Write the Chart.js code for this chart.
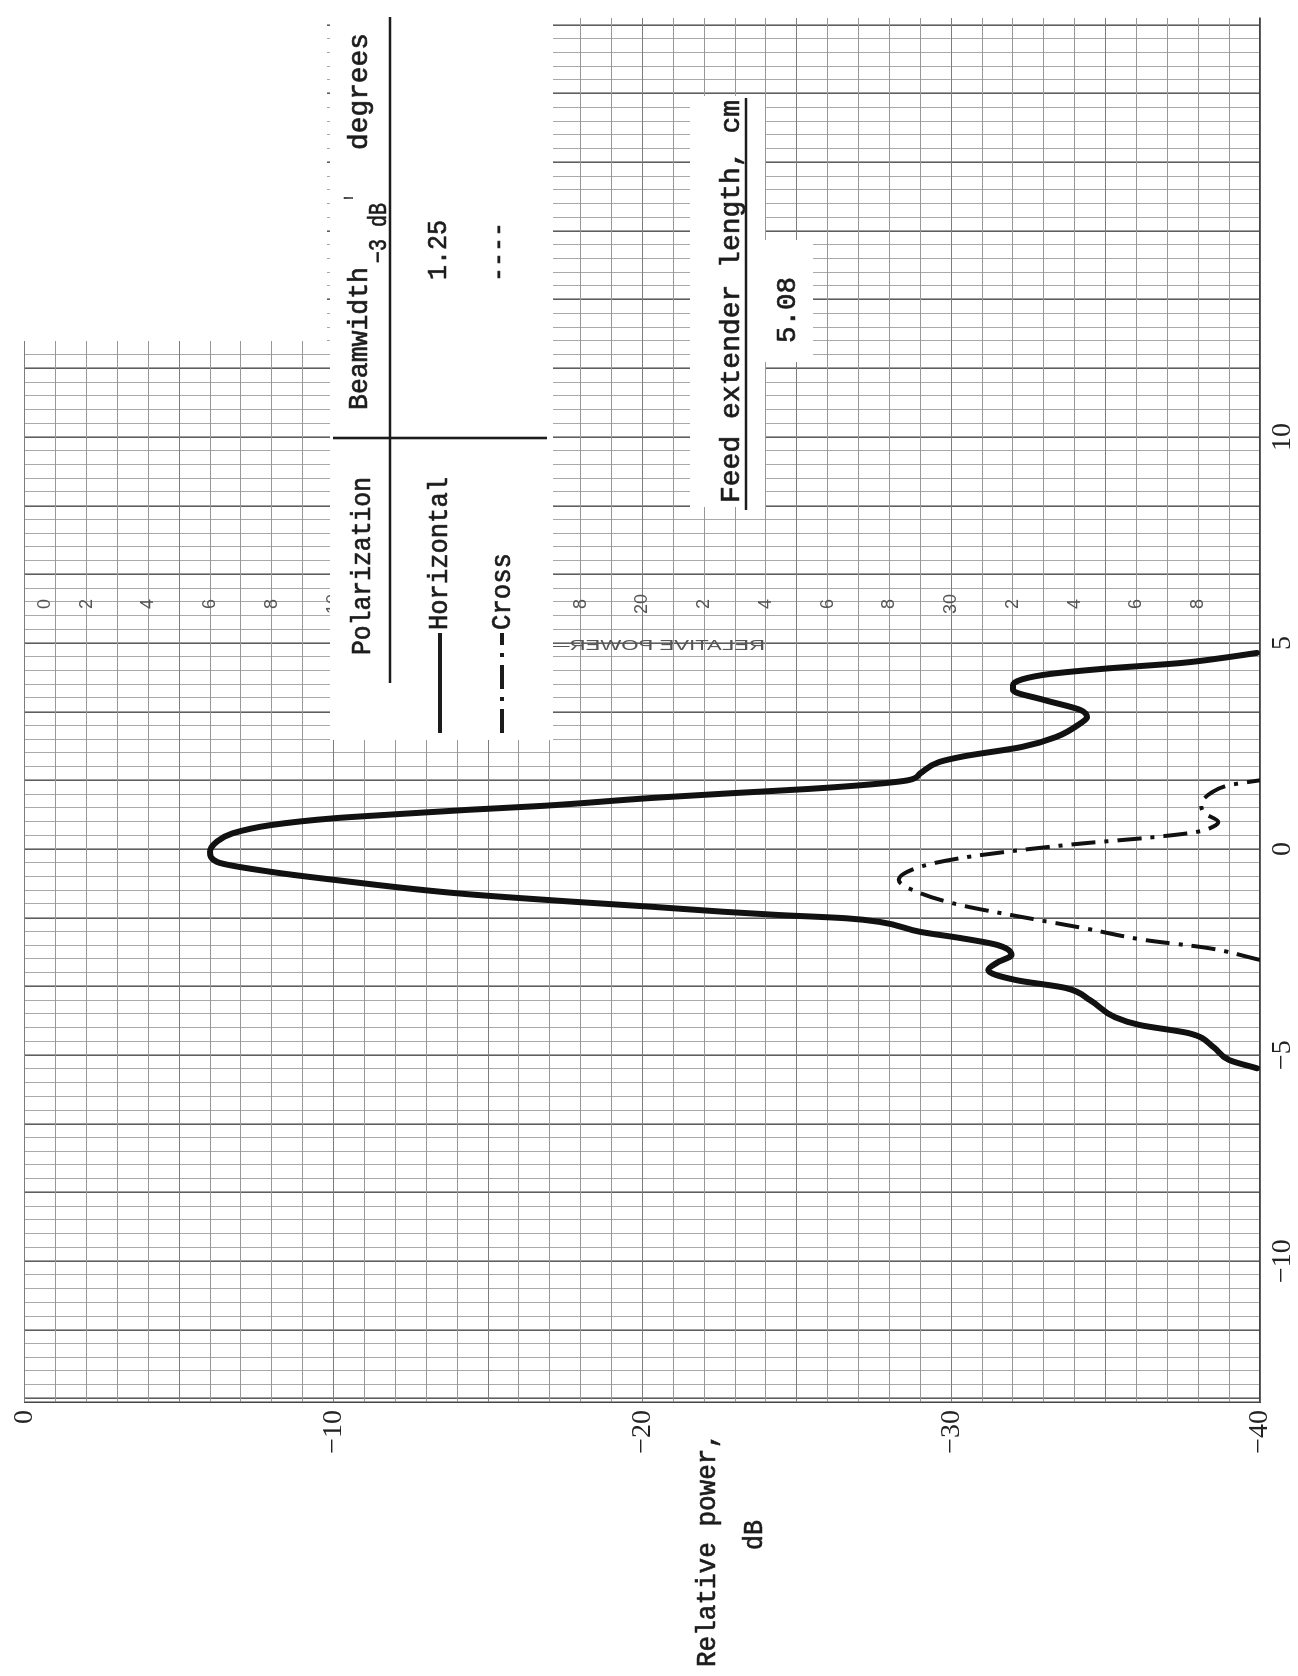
<!DOCTYPE html>
<html>
<head>
<meta charset="utf-8">
<script src="https://cdn.jsdelivr.net/npm/chart.js@4.4.1/dist/chart.umd.min.js"></script>
<style>
  html, body { margin: 0; padding: 0; background: #fff; overflow: hidden; }
  body { width: 1298px; height: 1676px; position: relative; }
  /* the recording is drawn landscape and turned a quarter turn, as on the sheet */
  #wrap { position: absolute; left: 0; top: 0; width: 1676px; height: 1298px;
          transform-origin: 0 0; transform: translateY(1676px) rotate(-90deg); }
</style>
</head>
<body>
<div id="wrap"><canvas id="chart" width="1676" height="1298"></canvas></div>
<script>
// angle, degrees / relative power, dB
const horizAngle = [-5.32, -5.12, -4.81, -4.47, -4.27, -4.08, -3.67, -3.37, -3.18, -2.94, -2.75, -2.57, -2.33, -2.16, -2.01, -1.77, -1.68, -1.60, -1.52, -1.40, -1.28, -1.08, -0.75, -0.55, -0.31, -0.07, 0.18, 0.38, 0.58, 0.75, 0.83, 0.95, 1.05, 1.24, 1.36, 1.46, 1.57, 1.67, 1.84, 2.11, 2.25, 2.48, 2.72, 3.06, 3.20, 3.37, 3.62, 3.86, 3.98, 4.12, 4.25, 4.38, 4.52, 4.64, 4.76];
const horizPower = [-39.9, -39.0, -38.5, -37.7, -36.1, -35.3, -34.5, -33.7, -32.1, -31.2, -31.5, -31.95, -31.5, -30.3, -29.0, -27.7, -26.6, -24.4, -22.6, -20.3, -17.8, -14.1, -10.05, -7.95, -6.22, -6.0, -6.22, -6.72, -7.95, -10.05, -11.7, -14.3, -16.8, -20.3, -23.0, -25.4, -27.4, -28.6, -29.0, -29.6, -30.4, -32.3, -33.4, -34.2, -34.4, -34.2, -33.0, -32.0, -32.0, -32.3, -33.2, -35.0, -37.5, -38.8, -39.9];
const crossAngle = [-2.69, -2.40, -2.21, -1.92, -1.65, -1.36, -1.07, -0.75, -0.43, -0.22, -0.02, 0.14, 0.27, 0.41, 0.55, 0.66, 0.87, 1.07, 1.38, 1.55, 1.67];
const crossPower = [-40.0, -38.3, -36.3, -34.3, -32.3, -30.3, -29.0, -28.3, -29.0, -30.3, -32.3, -34.3, -36.3, -37.9, -38.5, -38.65, -38.2, -38.1, -38.45, -39.0, -40.0];

const angleLabels = [-10, -5, 0, 5, 10];
const powerLabels = [0, -10, -20, -30, -40];
// printed scale of the chart paper itself
const paperScale = [0, 2, 4, 6, 8, 10, 12, 14, 16, 18, 20, 22, 24, 26, 28, 30, 32, 34, 36, 38];

const W = 1676; // canvas width = page height
const INK = '#1c1c1c';

function fmt(v) { return v < 0 ? '\u2212' + Math.abs(v) : String(v); }

// typewritten text, squeezed to the width it takes on the sheet
function typed(ctx, s, x, base, w, size) {
  ctx.save();
  ctx.font = size + 'px "Liberation Mono", monospace';
  ctx.fillStyle = INK;
  ctx.strokeStyle = INK;
  ctx.textAlign = 'left';
  ctx.textBaseline = 'alphabetic';
  const m = ctx.measureText(s).width;
  ctx.translate(x, base);
  ctx.scale(w / m, 1);
  ctx.fillText(s, 0, 0);
  ctx.lineWidth = 0.7;
  ctx.strokeText(s, 0, 0);
  ctx.restore();
}

// rectangle given in page coordinates
function pageRect(ctx, x0, y0, x1, y1) {
  ctx.fillRect(W - y1, x0, y1 - y0, x1 - x0);
}
function pageLine(ctx, x0, y0, x1, y1, w, dash) {
  ctx.save();
  ctx.strokeStyle = INK;
  ctx.lineWidth = w;
  ctx.setLineDash(dash || []);
  ctx.beginPath();
  ctx.moveTo(W - y0, x0);
  ctx.lineTo(W - y1, x1);
  ctx.stroke();
  ctx.restore();
}

const paper = {
  id: 'paper',
  beforeDraw(chart) {
    const ctx = chart.ctx;
    ctx.save();
    ctx.fillStyle = '#fff';
    ctx.fillRect(0, 0, chart.width, chart.height);
    ctx.restore();
  },
  beforeDatasetsDraw(chart) {
    const { ctx, scales: { y } } = chart;
    ctx.save();

    // paper's own dB scale
    ctx.font = '18px "Liberation Sans", sans-serif';
    ctx.fillStyle = '#555';
    ctx.textAlign = 'center';
    ctx.textBaseline = 'middle';
    paperScale.forEach(v => {
      const t = v % 10 === 0 ? String(v) : String(v % 10);
      const py = y.getPixelForValue(-v) + (v === 0 ? 20 : 0);
      ctx.fillText(t, W - 604, py);
    });

    // mirrored RELATIVE POWER caption showing through the paper
    ctx.save();
    ctx.translate(W - 646, 765);
    ctx.rotate(Math.PI / 2);
    ctx.scale(-1, 1);
    ctx.font = '15px "Liberation Sans", sans-serif';
    ctx.fillStyle = '#555';
    ctx.textBaseline = 'middle';
    ctx.textAlign = 'left';
    const cap = 'RELATIVE POWER\u2014(';
    const cw = ctx.measureText(cap).width;
    ctx.scale(225 / cw, 1);
    ctx.fillText(cap, 0, 0);
    ctx.restore();

    // blank parts of the sheet
    ctx.fillStyle = '#fff';
    pageRect(ctx, 20, 0, 327, 341);
    pageRect(ctx, 330, 0, 553, 740);
    pageRect(ctx, 690, 96, 765, 507);
    pageRect(ctx, 765, 240, 813, 362);

    // table rules
    pageLine(ctx, 390, 17, 390, 683, 2.6);
    pageLine(ctx, 333, 438, 547, 438, 2.6);
    pageLine(ctx, 746, 98, 746, 510, 2.4);
    // legend samples
    pageLine(ctx, 440, 733, 440, 633, 4);
    pageLine(ctx, 502, 733, 502, 633, 4, [24, 8, 4, 8]);

    // table text (horizontal on the canvas, upright on the turned sheet)
    typed(ctx, 'Polarization', 1021, 370, 178, 27);
    typed(ctx, 'Horizontal', 1046, 447, 153, 27);
    typed(ctx, 'Cross', 1046, 510, 77, 27);
    typed(ctx, 'Beamwidth', 1266, 367, 143, 27);
    typed(ctx, '\u22123 dB', 1413, 386, 60, 25);
    typed(ctx, "'", 1474, 364, 8, 27);
    typed(ctx, 'degrees', 1526, 367, 117, 27);
    typed(ctx, '1.25', 1396, 446, 60, 27);
    typed(ctx, '----', 1394, 506, 60, 27);
    typed(ctx, 'Feed extender length, cm', 1173, 739, 403, 27);
    typed(ctx, '5.08', 1333, 795, 66, 27);

    // axis title
    typed(ctx, 'Relative power,', 9, 715, 234, 27);
    typed(ctx, 'dB', 126, 762, 30, 27);

    ctx.restore();
  }
};

new Chart(document.getElementById('chart'), {
  type: 'line',
  data: {
    datasets: [
      {
        label: 'Horizontal',
        data: horizAngle.map((a, i) => ({ x: a, y: horizPower[i] })),
        borderColor: '#111',
        borderWidth: 6,
        pointRadius: 0,
        cubicInterpolationMode: 'monotone',
        borderCapStyle: 'round',
        borderJoinStyle: 'round'
      },
      {
        label: 'Cross',
        data: crossAngle.map((a, i) => ({ x: a, y: crossPower[i] })),
        borderColor: '#111',
        borderWidth: 4,
        borderDash: [24, 9, 4, 9],
        pointRadius: 0,
        cubicInterpolationMode: 'monotone'
      }
    ]
  },
  options: {
    responsive: false,
    animation: false,
    devicePixelRatio: 1,
    layout: { padding: { left: 0, right: 18, top: 18, bottom: 0 } },
    plugins: { legend: { display: false }, tooltip: { enabled: false } },
    scales: {
      x: {
        type: 'linear',
        min: -13.42,
        max: 20.17,
        afterBuildTicks: scale => {
          // grid every 1/3 degree, heavier every 5/3 degree
          const t = [];
          for (let k = -40; k <= 60; k++) t.push({ value: k / 3 });
          scale.ticks = t;
        },
        afterFit: scale => { scale.height = 38; },
        grid: {
          drawTicks: false,
          color: c => (Math.round(c.tick.value * 3) % 5 === 0 ? '#5e5e5e' : '#a9a9a9'),
          lineWidth: c => (Math.round(c.tick.value * 3) % 5 === 0 ? 1.6 : 1)
        },
        border: { color: '#444', width: 1.5 },
        ticks: {
          autoSkip: false,
          maxRotation: 0,
          padding: 6,
          color: '#222',
          font: { family: '"Liberation Serif", serif', size: 28 },
          callback: v => {
            const r = Math.round(v * 3) / 3;
            return angleLabels.some(a => Math.abs(a - r) < 1e-6) ? fmt(Math.round(r)) : '';
          }
        }
      },
      y: {
        type: 'linear',
        min: -40,
        max: 0,
        afterFit: scale => { scale.width = 274; },
        grid: {
          drawTicks: false,
          color: c => (c.tick.value % 5 === 0 ? '#7c7c7c' : '#979797'),
          lineWidth: 1
        },
        border: { color: '#444', width: 1.5 },
        ticks: {
          stepSize: 1,
          autoSkip: false,
          padding: 8,
          color: '#222',
          font: { family: '"Liberation Serif", serif', size: 28 },
          callback: v => (powerLabels.includes(v) ? fmt(v) : '')
        }
      }
    }
  },
  plugins: [paper]
});
</script>
</body>
</html>
